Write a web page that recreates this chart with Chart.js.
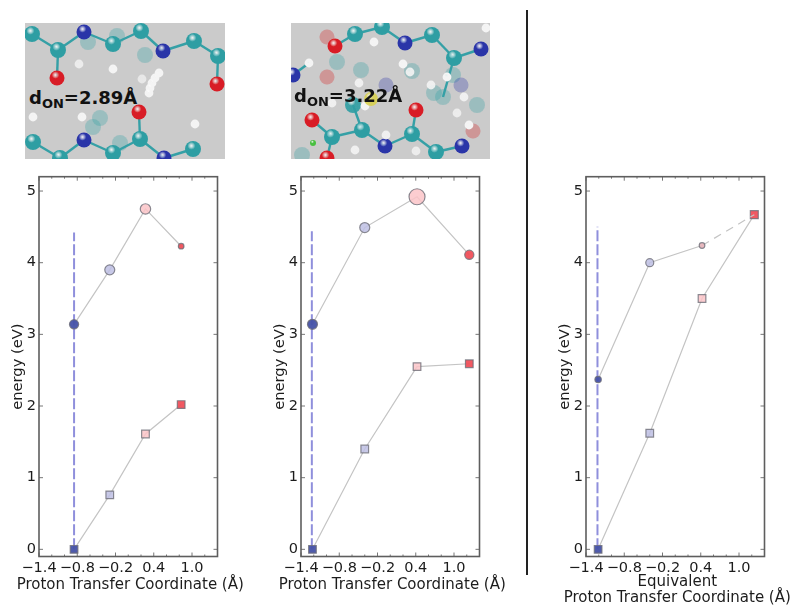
<!DOCTYPE html>
<html>
<head>
<meta charset="utf-8">
<title>Proton transfer energy</title>
<script src="https://cdn.jsdelivr.net/npm/chart.js@4/dist/chart.umd.min.js"></script>
<style>
  html, body { margin: 0; padding: 0; background: #fff; }
  #page { position: relative; width: 800px; height: 615px; overflow: hidden; }
  canvas { position: absolute; top: 165px; filter: blur(.3px); }
  svg { position: absolute; top: 23px; height: 136px; background: #cbcbcb; }
  .don { position: absolute; font: bold 18px "DejaVu Sans", sans-serif; color: #111; white-space: nowrap; }
  .don sub { font-size: 13px; vertical-align: -4px; line-height: 0; }
  #divider { position: absolute; left: 526px; top: 10px; width: 2px; height: 565px; background: #222; }
</style>
</head>
<body>
<div id="page">
  <svg id="molA" style="left:25px;width:200px" viewBox="25 23 200 136"></svg>
  <svg id="molB" style="left:291px;width:199px" viewBox="291 23 199 136"></svg>
  <div class="don" style="left:29px;top:87px">d<sub>ON</sub>=2.89Å</div>
  <div class="don" style="left:294px;top:85px">d<sub>ON</sub>=3.22Å</div>
  <div id="divider"></div>
  <canvas id="chartA" style="left:0;width:260px;height:450px" width="260" height="450"></canvas>
  <canvas id="chartB" style="left:262px;width:260px;height:450px" width="260" height="450"></canvas>
  <canvas id="chartC" style="left:547px;width:253px;height:450px" width="253" height="450"></canvas>
</div>

<script>
/* --- values --- */
const xTicks = [-1.4, -0.8, -0.2, 0.4, 1.0];
const yTicks = [0, 1, 2, 3, 4, 5];

const coordA = [-0.85, -0.29, 0.27, 0.83];
const circlesA = [3.14, 3.90, 4.75, 4.23];
const squaresA = [0, 0.76, 1.61, 2.02];
const dashTopA = 4.42;

const coordB = [-1.22, -0.40, 0.42, 1.24];
const circlesB = [3.14, 4.49, 4.92, 4.11];
const squaresB = [0, 1.40, 2.55, 2.59];
const dashTopB = 4.44;

const coordC = [-1.21, -0.40, 0.42, 1.24];
const circlesC = [2.37, 4.00, 4.24, 4.67];
const squaresC = [0, 1.62, 3.50, 4.67];
const dashTopC = 4.50;

/* --- styles --- */
const markerColors = ['rgba(70,82,168,.95)', 'rgba(190,192,228,.85)', 'rgba(252,196,200,.85)', 'rgba(240,80,90,.95)'];
const markerEdge = 'rgba(110,110,120,.8)';
const lineGrey = '#c4c4c4';
const dashBlue = '#8f8fdc';
const frameGrey = '#5e5e5e';
const textColor = '#1c1c1c';

/* inward matplotlib style ticks and the box round the plot */
const frameTicks = {
  id: 'frameTicks',
  afterDatasetsDraw(chart) {
    const { ctx, chartArea: a, scales: { x, y } } = chart;
    ctx.save();
    ctx.strokeStyle = '#777';
    ctx.lineWidth = 1;
    ctx.beginPath();
    for (let v = -14; v <= 14; v += 2) {
      const px = x.getPixelForValue(v / 10);
      const len = (v + 14) % 6 === 0 ? 4 : 2;
      ctx.moveTo(px, a.top); ctx.lineTo(px, a.top + len);
      ctx.moveTo(px, a.bottom); ctx.lineTo(px, a.bottom - len);
    }
    yTicks.forEach(v => {
      const py = y.getPixelForValue(v);
      ctx.moveTo(a.left, py); ctx.lineTo(a.left + 4, py);
      ctx.moveTo(a.right, py); ctx.lineTo(a.right - 4, py);
    });
    ctx.stroke();
    ctx.strokeStyle = frameGrey;
    ctx.lineWidth = 1.6;
    ctx.strokeRect(a.left, a.top, a.right - a.left, a.bottom - a.top);
    ctx.restore();
  }
};

/* scale titles get squeezed to the plot width, this one is wider than the plot */
const xCaption = {
  id: 'xCaption',
  afterDraw(chart, args, opts) {
    const { ctx, chartArea: a } = chart;
    ctx.save();
    ctx.fillStyle = textColor;
    ctx.font = '15px "DejaVu Sans"';
    ctx.textAlign = 'center';
    ctx.textBaseline = 'middle';
    const cx = (a.left + a.right) / 2 + 2;
    opts.lines.forEach((line, i) => ctx.fillText(line, cx, opts.top + i * 16.5));
    ctx.restore();
  }
};

function points(xs, ys) {
  return xs.map((x, i) => ({ x, y: ys[i] }));
}

function makeChart(id, coord, circles, squares, dashTop, opts) {
  new Chart(document.getElementById(id), {
    type: 'scatter',
    data: {
      datasets: [
        {
          data: points(coord, circles), showLine: true, order: 1,
          borderColor: lineGrey, borderWidth: 1.2,
          pointStyle: 'circle', pointRadius: opts.circleSizes,
          pointBackgroundColor: opts.circleColors || markerColors, pointBorderColor: markerEdge, pointBorderWidth: 1.2,
          segment: { borderDash: c => (opts.dashLast && c.p0DataIndex === 2) ? [8, 6] : undefined }
        },
        {
          data: points(coord, squares), showLine: true, order: 2,
          borderColor: lineGrey, borderWidth: 1.2,
          pointStyle: 'rect', pointRadius: opts.squareSizes,
          pointBackgroundColor: markerColors, pointBorderColor: markerEdge, pointBorderWidth: 1.2
        },
        {
          data: [{ x: opts.dashX, y: 0 }, { x: opts.dashX, y: dashTop }], showLine: true, order: 3,
          borderColor: dashBlue, borderWidth: 2, borderDash: [11, 3], pointRadius: 0
        }
      ]
    },
    options: {
      responsive: false, animation: false, events: [],
      layout: { padding: { top: 11, right: opts.right, left: 0, bottom: 0 } },
      plugins: {
        legend: { display: false }, tooltip: { enabled: false },
        xCaption: { lines: opts.xTitle, top: opts.titleTop }
      },
      scales: {
        x: {
          type: 'linear', min: -1.4, max: 1.4,
          grid: { display: false, drawTicks: false }, border: { display: false },
          afterBuildTicks: s => { s.ticks = xTicks.map(value => ({ value })); },
          afterFit: s => { s.height = 58.5; },
          ticks: {
            autoSkip: false, maxRotation: 0, padding: 3,
            color: textColor, font: { family: 'DejaVu Sans', size: 14.5 },
            callback: v => v.toFixed(1).replace('-', '\u2212')
          }
        },
        y: {
          type: 'linear', min: -0.1, max: 5.2,
          grid: { display: false, drawTicks: false }, border: { display: false },
          afterBuildTicks: s => { s.ticks = yTicks.map(value => ({ value })); },
          afterFit: s => { s.width = 39; },
          ticks: { autoSkip: false, padding: 3, color: textColor, font: { family: 'DejaVu Sans', size: 14.5 } },
          title: {
            display: true, text: 'energy (eV)', color: textColor,
            font: { family: 'DejaVu Sans', size: 14.7 },
            padding: { top: 9, bottom: 0 }
          }
        }
      }
    },
    plugins: [frameTicks, xCaption]
  });
}

makeChart('chartA', coordA, circlesA, squaresA, dashTopA, {
  right: 42.5, dashX: -0.85, xTitle: ['Proton Transfer Coordinate (Å)'], titleTop: 420,
  circleSizes: [4.6, 5, 5.2, 2.8], squareSizes: [5.4, 5.4, 5.4, 5.4]
});
makeChart('chartB', coordB, circlesB, squaresB, dashTopB, {
  right: 42.5, dashX: -1.23, xTitle: ['Proton Transfer Coordinate (Å)'], titleTop: 420,
  circleSizes: [5, 5, 8, 4.6], squareSizes: [5.4, 5.4, 5.4, 5.4]
});
makeChart('chartC', coordC, circlesC, squaresC, dashTopC, {
  right: 35.5, dashX: -1.22, xTitle: ['Equivalent', 'Proton Transfer Coordinate (Å)'], titleTop: 417, dashLast: true,
  circleSizes: [3.2, 4, 2.8, 0], squareSizes: [5.4, 5.4, 5.4, 5.6],
  circleColors: [markerColors[0], markerColors[1], 'rgba(232,180,186,.9)', markerColors[3]]
});

/* --- molecule snapshots above the charts (illustration only, not chart data) --- */
const atomColors = { C: '#2f9ea3', N: '#2b35a8', O: '#d81f26', H: '#f4f4f4', S: '#d8d050', G: '#48c040' };
const atomSizes = { C: 8, N: 7.5, O: 7.5, H: 4.4, S: 7, G: 3 };

const atomsA = [
  ['C',113,153,1],['C',140,139,1],['C',58,50,1],['C',32,34,1],['C',113,44,1],['C',141,31,1],['C',194,41,1],['C',218,56,1],
  ['C',33,142,1],['C',60,158,1],['C',193,149,1],['N',84,32,1],['N',163,51,1],['N',84,140,1],['N',164,158,1],
  ['O',57,78,1],['O',217,84,1],['O',139,112,1],
  ['H',113,69,1],['H',79,64,.8],['H',142,79,.7],['H',33,117,1],['H',82,117,1],['H',195,124,1],
  ['H',159,73,1],['H',155,78,1],['H',152,83,1],['H',150,88,1],['H',149,93,1]
];
const fadedA = [['C',88,42],['C',117,36],['C',145,55],['C',93,127],['C',100,118],['C',120,143]];
const bondsA = [[32,34,58,50],[58,50,84,32],[84,32,113,44],[113,44,141,31],[141,31,163,51],[163,51,194,41],[194,41,218,56],
  [58,50,57,78],[218,56,217,84],[33,142,60,158],[60,158,84,140],[84,140,113,153],[113,153,140,139],[140,139,164,158],[164,158,193,149],[139,112,140,139]];

const atomsB = [
  ['C',355,34,1],['C',382,27,1],['C',432,35,1],['C',454,58,1],['C',332,137,1],['C',362,130,1],['C',412,134,1],['C',436,152,1],['C',353,105,.9],
  ['N',405,43,1],['N',481,49,1],['N',385,146,1],['N',462,146,1],['N',293,75,1],
  ['O',335,46,1],['O',416,110,1],['O',312,120,1],['O',327,158,1],
  ['H',374,42,1],['H',403,64,1],['H',309,63,1],['H',359,83,.9],['H',365,106,1],['H',410,72,.9],['H',431,85,.9],['H',447,77,1],
  ['H',464,97,.9],['H',457,113,.8],['H',469,125,1],['H',386,135,.9],['H',355,150,.9],['H',416,151,.8],['H',486,28,1],['H',332,103,.9]
];
const fadedB = [['C',337,62],['C',361,70],['C',412,71],['C',453,75],['C',443,97],['C',434,93],['C',477,105],['C',302,155],
  ['N',386,85],['N',461,85],['O',327,37],['O',327,77],['O',473,131]];
const bondsB = [[335,46,355,34],[355,34,382,27],[382,27,405,43],[405,43,432,35],[432,35,454,58],[454,58,481,49],
  [332,137,362,130],[362,130,385,146],[385,146,412,134],[412,134,436,152],[436,152,462,146],[353,105,362,130],[412,134,416,110],
  [312,120,332,137],[327,158,332,137],[454,58,443,97],[293,75,309,63]];

function drawMolecule(svgId, atoms, faded, bonds, extras) {
  const svg = document.getElementById(svgId);
  let out = '<defs><filter id="' + svgId + 'b"><feGaussianBlur stdDeviation="0.5"/></filter>';
  Object.keys(atomColors).forEach(k => {
    out += '<radialGradient id="' + svgId + k + '" cx="40%" cy="30%" r="70%"><stop offset="0" stop-color="#fff" stop-opacity=".75"/>' +
      '<stop offset=".35" stop-color="' + atomColors[k] + '"/><stop offset="1" stop-color="' + atomColors[k] + '"/></radialGradient>';
  });
  out += '</defs><g filter="url(#' + svgId + 'b)">';
  faded.forEach(a => {
    out += '<circle cx="' + a[1] + '" cy="' + a[2] + '" r="' + atomSizes[a[0]] + '" fill="' + atomColors[a[0]] + '" opacity=".3"/>';
  });
  bonds.forEach(b => {
    out += '<line x1="' + b[0] + '" y1="' + b[1] + '" x2="' + b[2] + '" y2="' + b[3] + '" stroke="#35a0a6" stroke-width="2.4"/>';
  });
  atoms.concat(extras).forEach(a => {
    out += '<circle cx="' + a[1] + '" cy="' + a[2] + '" r="' + atomSizes[a[0]] + '" fill="url(#' + svgId + a[0] + ')" opacity="' + a[3] + '"/>';
  });
  svg.innerHTML = out + '</g>';
}

drawMolecule('molA', atomsA, fadedA, bondsA, []);
drawMolecule('molB', atomsB, fadedB, bondsB, [['S',371,99,.9],['G',313,143,1]]);
</script>
</body>
</html>
